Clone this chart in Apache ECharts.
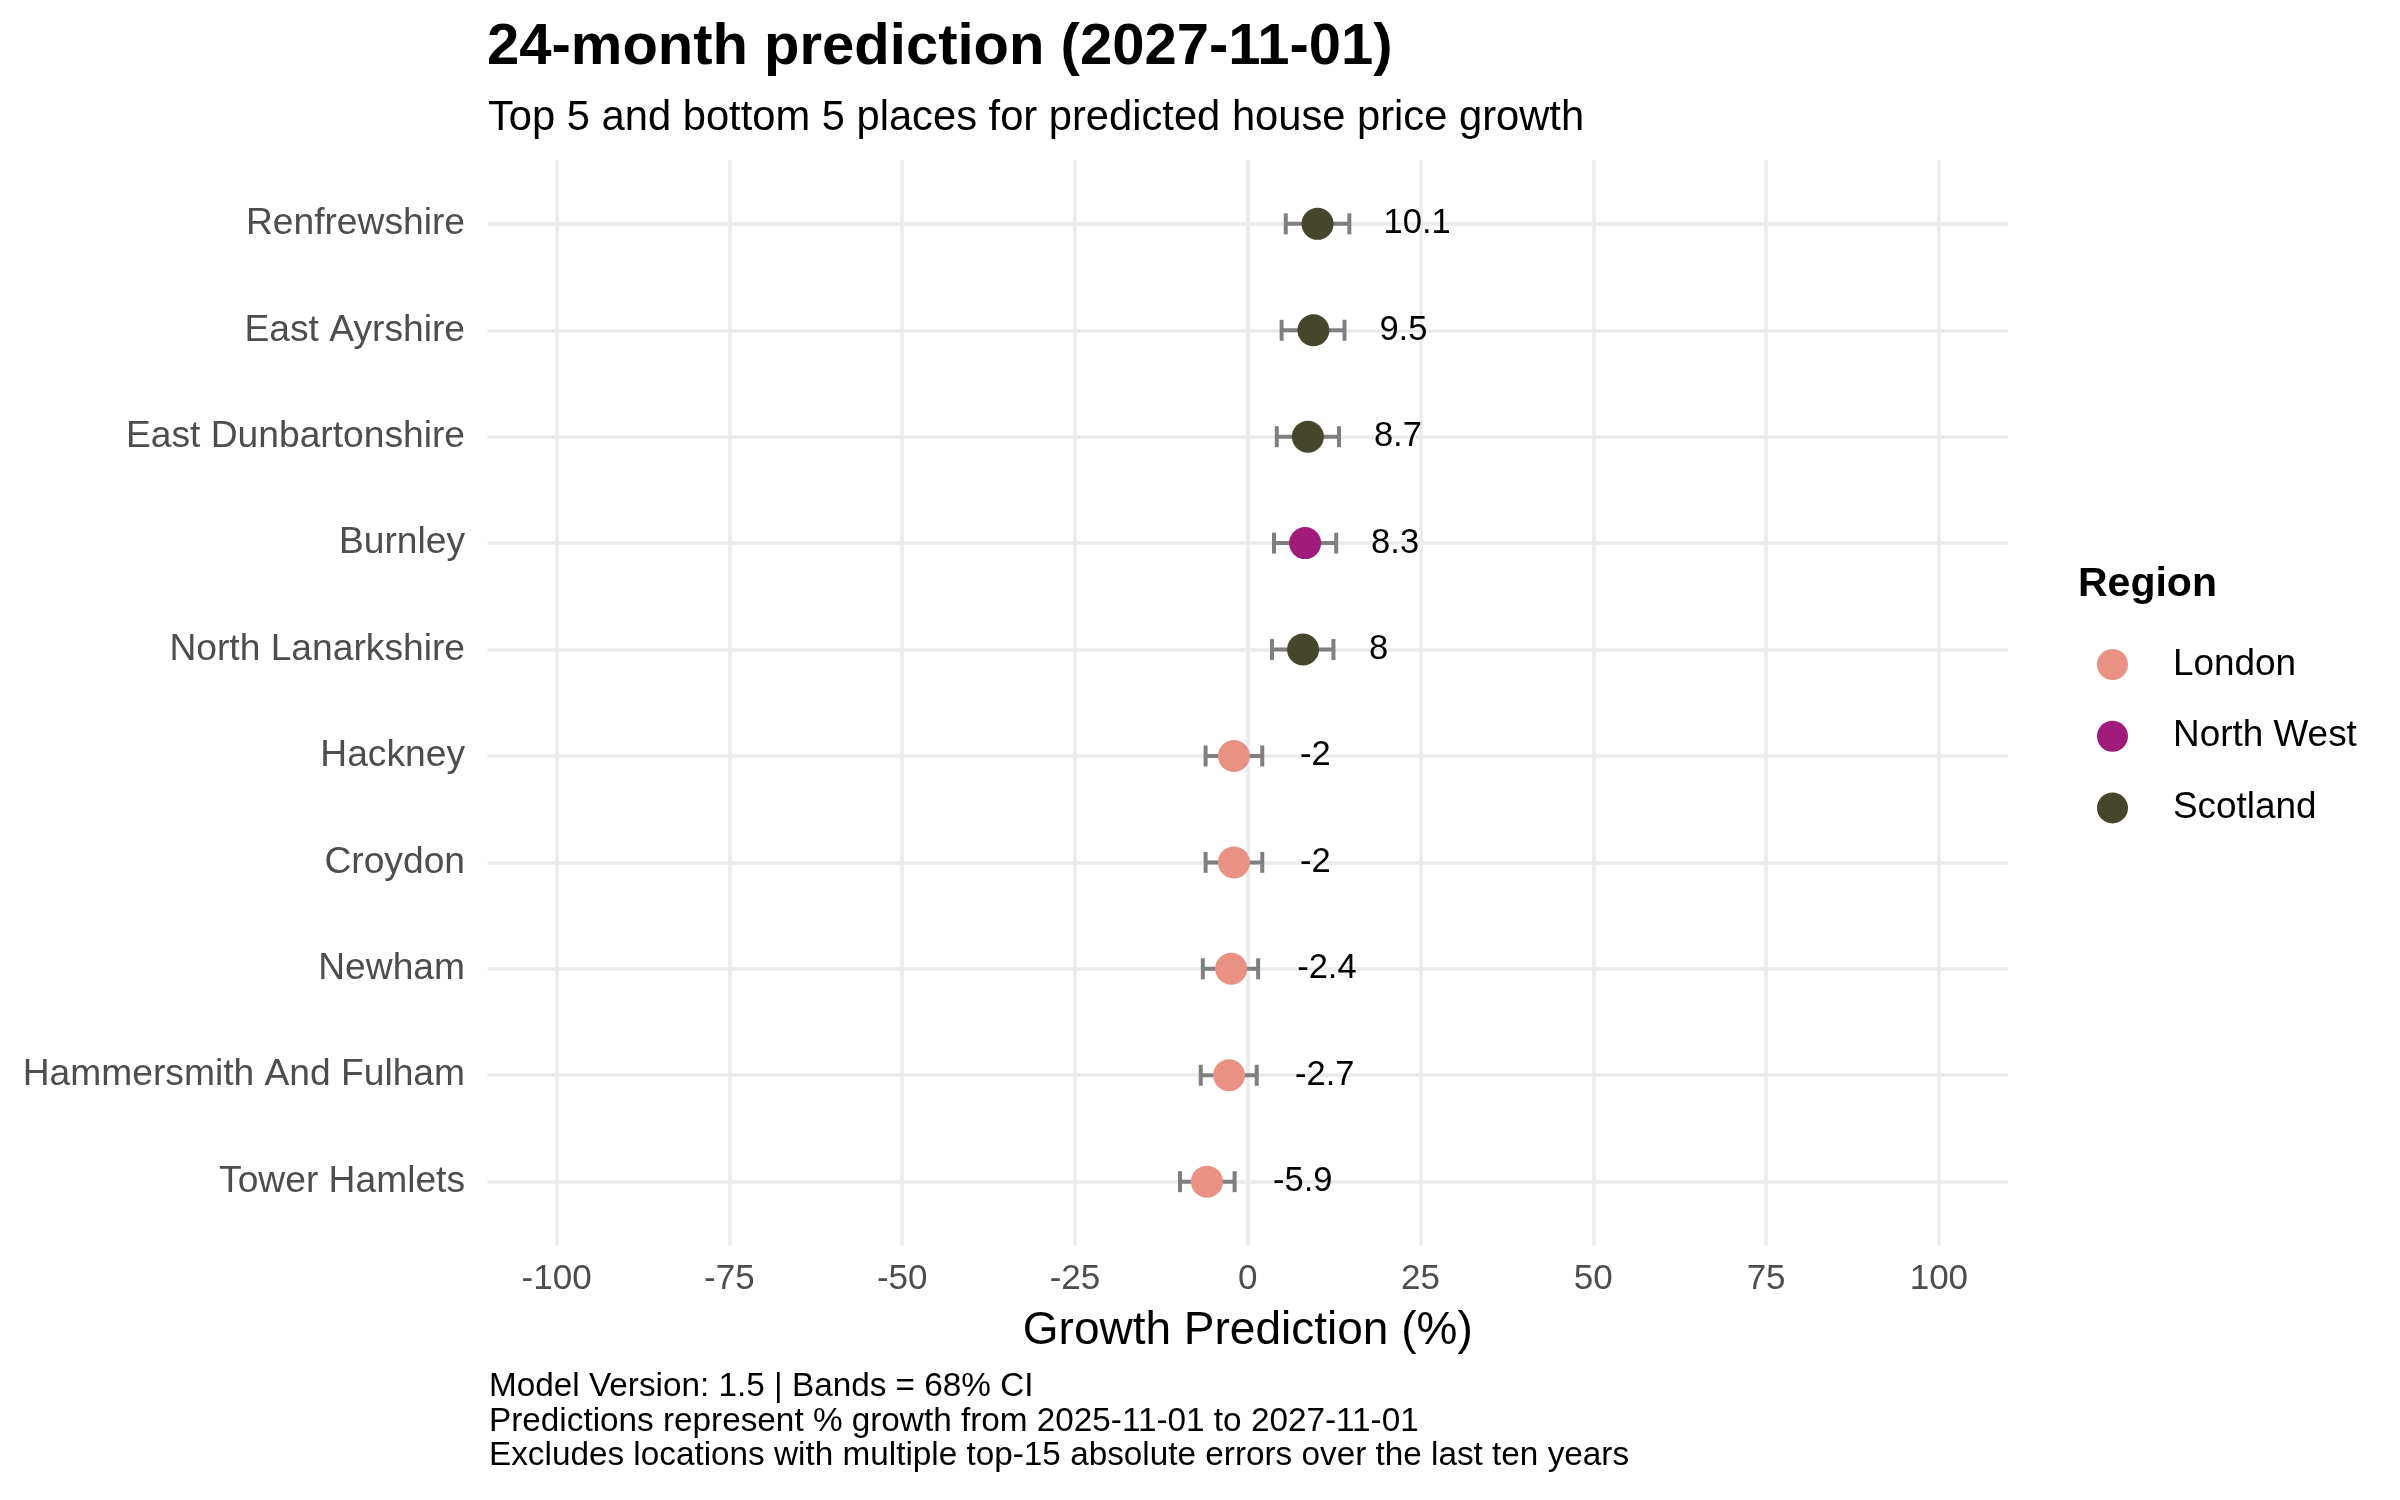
<!DOCTYPE html>
<html>
<head>
<meta charset="utf-8">
<script src="https://cdn.jsdelivr.net/npm/echarts@6/dist/echarts.min.js"></script>
<style>html,body{margin:0;padding:0;background:#fff}#c{width:2400px;height:1500px}</style>
</head>
<body>
<div id="c"></div>
<script>
const places = ['Renfrewshire','East Ayrshire','East Dunbartonshire','Burnley','North Lanarkshire','Hackney','Croydon','Newham','Hammersmith And Fulham','Tower Hamlets'];
const regions = ['Scotland','Scotland','Scotland','North West','Scotland','London','London','London','London','London'];
const predictions = [10.1, 9.5, 8.7, 8.3, 8.0, -2.0, -2.0, -2.4, -2.7, -5.9];
const lower = [5.5, 4.9, 4.2, 3.8, 3.5, -6.1, -6.1, -6.5, -6.8, -9.8];
const upper = [14.7, 14.0, 13.2, 12.8, 12.4, 2.1, 2.1, 1.5, 1.3, -1.9];
const regionNames = ['London','North West','Scotland'];
const regionColors = {'London':'#E99283','North West':'#A01B7A','Scotland':'#46462D'};
const xTicks = [-100,-75,-50,-25,0,25,50,75,100];
const rowIdx = places.map((p,i)=>i);

const FONT = 'Liberation Sans, Arial, Helvetica, sans-serif';
const chart = echarts.init(document.getElementById('c'), null, {renderer:'canvas'});

const errData = places.map((p,i)=>[lower[i], upper[i], i]);

const scatterSeries = regionNames.map(r => ({
  name: r,
  type: 'scatter',
  symbol: 'circle',
  symbolSize: 32,
  z: 5,
  itemStyle: {color: regionColors[r], opacity: 1},
  label: {
    show: true, position: 'right', distance: 50,
    color: '#000', fontSize: 34.5, fontFamily: FONT, padding: [5,0,0,0],
    formatter: p => String(p.value[0])
  },
  data: rowIdx.filter(i => regions[i] === r).map(i => [predictions[i], i])
}));

chart.setOption({
  animation: false,
  backgroundColor: '#fff',
  textStyle: {fontFamily: FONT},
  title: [
    {text: '24-month prediction (2027-11-01)', left: 487, top: 19, padding: 0,
     textStyle: {fontSize: 58, fontWeight: 'bold', color: '#000', lineHeight: 58, fontFamily: FONT}},
    {text: 'Top 5 and bottom 5 places for predicted house price growth', left: 488, top: 98, padding: 0,
     textStyle: {fontSize: 41.7, fontWeight: 'normal', color: '#000', lineHeight: 42, fontFamily: FONT}},
    {text: 'Region', left: 2078, top: 564, padding: 0,
     textStyle: {fontSize: 41, fontWeight: 'bold', color: '#000', lineHeight: 41, fontFamily: FONT}},
    {text: 'Model Version: 1.5 | Bands = 68% CI\nPredictions represent % growth from 2025-11-01 to 2027-11-01\nExcludes locations with multiple top-15 absolute errors over the last ten years',
     left: 489, top: 1370, padding: 0,
     textStyle: {fontSize: 33.3, fontWeight: 'normal', color: '#000', lineHeight: 34.5, fontFamily: FONT}}
  ],
  legend: {
    data: regionNames,
    orient: 'vertical',
    left: 2097, top: 646,
    padding: 0,
    itemWidth: 31, itemHeight: 31, itemGap: 34.7,
    icon: 'circle',
    textStyle: {fontSize: 36.9, color: '#000', lineHeight: 31, padding: [0,0,0,40], fontFamily: FONT}
  },
  grid: {left: 487.5, top: 160, width: 1520.5, height: 1085.5, containLabel: false},
  xAxis: {
    type: 'value', min: -110, max: 110,
    name: 'Growth Prediction (%)', nameLocation: 'middle', nameGap: 63,
    nameTextStyle: {fontSize: 46, color: '#000', lineHeight: 46, fontFamily: FONT},
    axisLine: {show: false},
    axisTick: {show: false, customValues: xTicks},
    axisLabel: {customValues: xTicks, fontSize: 35, color: '#4D4D4D', margin: 16, lineHeight: 35, fontFamily: FONT},
    splitLine: {show: true, lineStyle: {color: '#EBEBEB', width: 3.5}}
  },
  yAxis: {
    type: 'value', min: -0.6, max: 9.6, inverse: true,
    axisLine: {show: false},
    axisTick: {show: false, customValues: rowIdx},
    axisLabel: {customValues: rowIdx, fontSize: 37.2, color: '#4D4D4D', margin: 22.5, fontFamily: FONT,
      padding: [5,0,0,0],
      formatter: v => places[Math.round(v)] || ''},
    splitLine: {show: true, lineStyle: {color: '#EBEBEB', width: 3.5}}
  },
  series: [
    {
      type: 'custom', name: 'CI', z: 3,
      renderItem: (params, api) => {
        const lo = api.value(0), hi = api.value(1), y = api.value(2);
        const a = api.coord([lo, y]), b = api.coord([hi, y]);
        const style = {stroke: '#7F7F7F', lineWidth: 4, fill: null};
        const h = 10.5;
        return {type: 'group', children: [
          {type: 'line', shape: {x1: a[0], y1: a[1], x2: b[0], y2: b[1]}, style},
          {type: 'line', shape: {x1: a[0], y1: a[1]-h, x2: a[0], y2: a[1]+h}, style},
          {type: 'line', shape: {x1: b[0], y1: b[1]-h, x2: b[0], y2: b[1]+h}, style}
        ]};
      },
      encode: {x: [0, 1], y: 2},
      data: errData,
      silent: true
    },
    ...scatterSeries
  ]
});
</script>
</body>
</html>
